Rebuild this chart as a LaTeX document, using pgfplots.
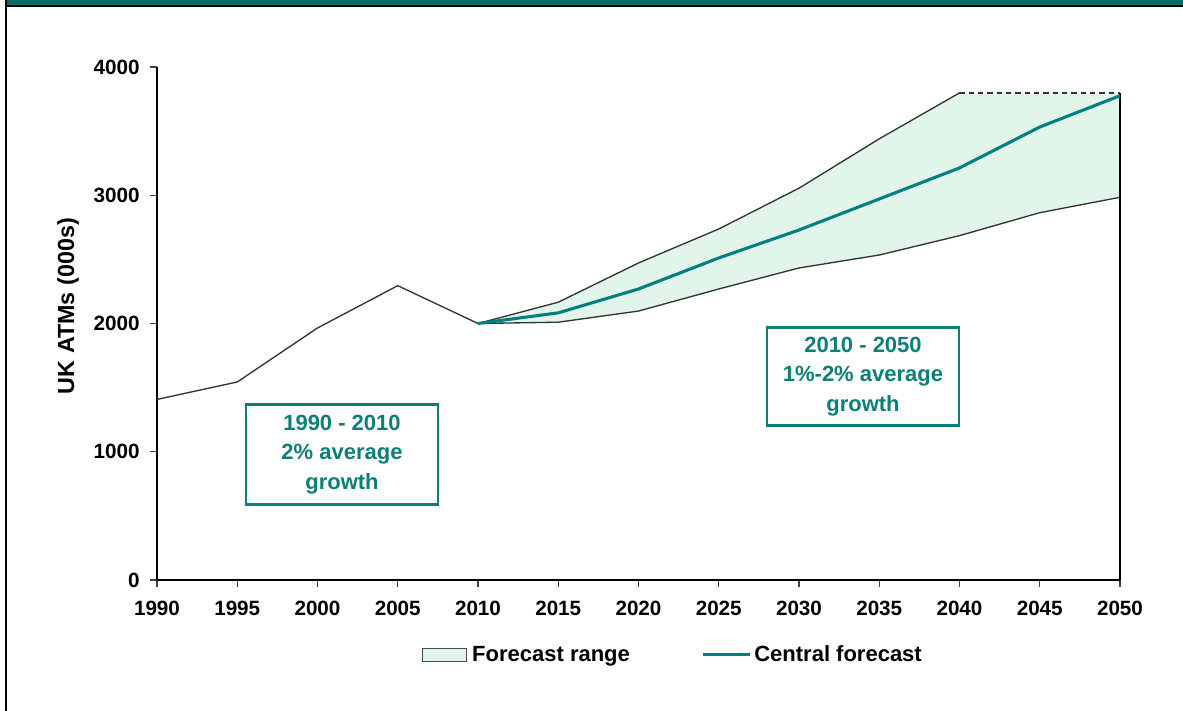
\documentclass[border=0pt]{standalone}
\usepackage{pgfplots}
\pgfplotsset{compat=1.18}
\usepackage{fontspec}
\setmainfont{Liberation Sans}

\definecolor{bandgreen}{HTML}{006F5F}
\definecolor{teal}{HTML}{008080}
\definecolor{boxteal}{HTML}{0C8078}
\definecolor{rangefill}{HTML}{E1F5EA}
\definecolor{linegray}{HTML}{333333}

\begin{document}
\begin{tikzpicture}[x=0.75pt,y=0.75pt]
  % page frame
  \useasboundingbox (0,0) rectangle (1183,711);
  \fill[bandgreen] (6,706) rectangle (1183,711);
  \draw[black,line width=1.2pt] (6,705.2) -- (1183,705.2);
  \draw[black,line width=0.9pt] (6,711) -- (6,0);

  \begin{axis}[
    at={(117.75pt,98.25pt)}, anchor=south west,
    scale only axis,
    width=722.25pt, height=384.75pt,
    xmin=1990, xmax=2050, ymin=0, ymax=4000,
    clip=false,
    axis x line*=bottom, axis y line*=left,
    axis line style={black,line width=0.9pt,-},
    xtick={1990,1995,...,2050},
    ytick={0,1000,2000,3000,4000},
    tick align=outside,
    major tick length=5.5pt,
    tick style={black!75,line width=0.8pt},
    x tick label style={/pgf/number format/1000 sep=},
    /pgf/number format/assume math mode=true,
    ticklabel style={font=\fontsize{15.5}{18}\selectfont\bfseries},
    yticklabel style={/pgf/number format/1000 sep=, xshift=-4pt},
    xticklabel style={yshift=-7pt},
    ylabel={UK ATMs (000s)},
    ylabel style={font=\fontsize{17.5}{20}\selectfont\bfseries,
      at={(axis description cs:-0.0924,0.534)}, anchor=center, rotate=0},
    legend style={draw=none, fill=none,
      at={(axis description cs:0.536,-0.146)}, anchor=center,
      font=\fontsize{16.5}{19}\selectfont\bfseries,
      legend columns=2,
      /tikz/every even column/.append style={column sep=52pt}},
    legend cell align=left,
  ]
    % forecast range: upper path, then lower path back to 2010
    \addplot[fill=rangefill, draw=none,
      legend image code/.code={\draw[fill=rangefill,draw=black!70,line width=0.8pt]
        (0pt,-5pt) rectangle (33pt,5pt);}]
      coordinates {(2010,2000) (2015,2166) (2020,2472) (2025,2737) (2030,3055)
                   (2035,3440) (2040,3798) (2045,3798) (2050,3798)
                   (2050,2984) (2045,2864) (2040,2685) (2035,2534) (2030,2433)
                   (2025,2269) (2020,2097) (2015,2010) (2010,2000)} -- cycle;
    \addlegendentry{\hspace{2pt}Forecast range}

    % history
    \addplot[linegray, line width=1pt, forget plot]
      coordinates {(1990,1408) (1995,1544) (2000,1965) (2005,2295) (2010,2000)};
    % upper bound
    \addplot[linegray, line width=1pt, forget plot]
      coordinates {(2010,2000) (2015,2166) (2020,2472) (2025,2737) (2030,3055)
                   (2035,3440) (2040,3798)};
    \addplot[linegray, line width=1pt, dashed, dash pattern=on 4pt off 3pt, forget plot]
      coordinates {(2040,3798) (2050,3798)};
    % lower bound
    \addplot[linegray, line width=1pt, forget plot]
      coordinates {(2010,2000) (2015,2010) (2020,2097) (2025,2269) (2030,2433)
                   (2035,2534) (2040,2685) (2045,2864) (2050,2984)};
    % right edge of range
    \addplot[black, line width=0.9pt, forget plot]
      coordinates {(2050,0) (2050,3798)};

    % central forecast
    \addplot[teal, line width=2.3pt,
      legend image code/.code={\draw[teal,line width=2.3pt] (0pt,0pt) -- (35pt,0pt);}]
      coordinates {(2010,2000) (2015,2083) (2020,2269) (2025,2511) (2030,2729)
                   (2035,2971) (2040,3213) (2045,3532) (2050,3776)};
    \addlegendentry{Central forecast}
  \end{axis}

  % growth notes
  \node[draw=boxteal, line width=2.2pt, fill=white, text=boxteal,
        minimum width=144pt, minimum height=75.5pt, align=center,
        font=\fontsize{16.5}{22}\selectfont\bfseries]
    at (342,256.5) {1990 - 2010\\2\% average\\growth};
  \node[draw=boxteal, line width=2.2pt, fill=white, text=boxteal,
        minimum width=144pt, minimum height=74pt, align=center,
        font=\fontsize{16.5}{22}\selectfont\bfseries]
    at (863,334.5) {2010 - 2050\\1\%-2\% average\\growth};
\end{tikzpicture}
\end{document}
